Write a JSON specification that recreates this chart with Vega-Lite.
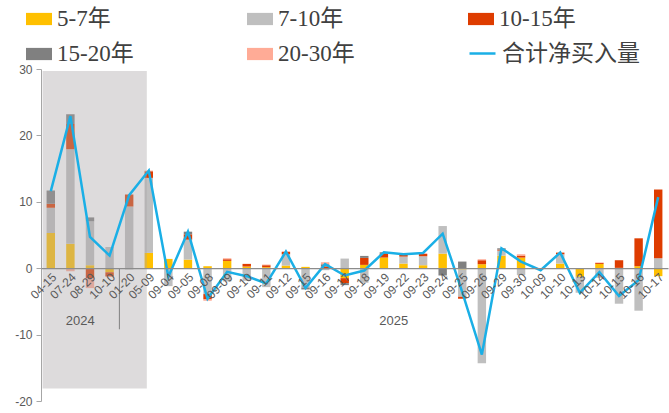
{
  "$schema": "https://vega.github.io/schema/vega-lite/v6.json",
  "width": 627,
  "height": 332,
  "autosize": {"type": "none"},
  "padding": {"left": 41, "top": 69, "right": 1, "bottom": 12},
  "background": "white",
  "config": {"view": {"stroke": null}, "font": "Liberation Sans"},
  "datasets": {
    "main": [
      {"d": "04-15", "5-7年": 5.3, "7-10年": 3.8, "10-15年": 0.6, "15-20年": 2.0, "20-30年": 0, "t": 11.6},
      {"d": "07-24", "5-7年": 3.7, "7-10年": 14.2, "10-15年": 3.8, "15-20年": 1.5, "20-30年": -0.45, "t": 22.9},
      {"d": "08-29", "5-7年": 0.45, "7-10年": 6.6, "10-15年": -1.5, "15-20年": 0.6, "20-30年": -1.5, "t": 4.7},
      {"d": "10-10", "5-7年": -0.6, "7-10年": 3.2, "10-15年": -0.65, "15-20年": 0, "20-30年": 0, "t": 1.9},
      {"d": "01-20", "5-7年": 0, "7-10年": 9.3, "10-15年": 1.8, "15-20年": -0.15, "20-30年": 0, "t": 11.0},
      {"d": "05-09", "5-7年": 2.3, "7-10年": 11.3, "10-15年": 1.0, "15-20年": 0, "20-30年": 0.1, "t": 14.7},
      {"d": "09-04", "5-7年": 1.4, "7-10年": -2.7, "10-15年": 0, "15-20年": 0, "20-30年": 0, "t": -1.3},
      {"d": "09-05", "5-7年": 1.3, "7-10年": 3.0, "10-15年": 0.8, "15-20年": 0.4, "20-30年": 0, "t": 5.5},
      {"d": "09-08", "5-7年": 0.3, "7-10年": -3.9, "10-15年": -0.8, "15-20年": 0, "20-30年": -0.2, "t": -4.6},
      {"d": "09-09", "5-7年": 1.1, "7-10年": -2.0, "10-15年": 0.25, "15-20年": 0, "20-30年": 0.15, "t": -0.55},
      {"d": "09-10", "5-7年": 0.25, "7-10年": -1.9, "10-15年": 0.4, "15-20年": 0, "20-30年": 0, "t": -1.2},
      {"d": "09-11", "5-7年": 0.15, "7-10年": -2.85, "10-15年": 0.3, "15-20年": 0, "20-30年": 0.1, "t": -2.3},
      {"d": "09-12", "5-7年": 0.4, "7-10年": 1.7, "10-15年": 0.35, "15-20年": 0, "20-30年": 0.1, "t": 2.5},
      {"d": "09-15", "5-7年": 0.2, "7-10年": -2.9, "10-15年": 0, "15-20年": -0.3, "20-30年": 0, "t": -3.0},
      {"d": "09-16", "5-7年": 0, "7-10年": -0.3, "10-15年": 0.25, "15-20年": 0.35, "20-30年": 0.3, "t": 0.6},
      {"d": "09-17", "5-7年": -1.5, "7-10年": 1.45, "10-15年": -0.75, "15-20年": -0.3, "20-30年": 0, "t": -1.1},
      {"d": "09-18", "5-7年": 0.5, "7-10年": -2.2, "10-15年": 1.05, "15-20年": 0.3, "20-30年": 0, "t": -0.35},
      {"d": "09-19", "5-7年": 1.6, "7-10年": 0, "10-15年": 0.55, "15-20年": 0.25, "20-30年": 0, "t": 2.4},
      {"d": "09-22", "5-7年": 0.7, "7-10年": 1.05, "10-15年": 0.25, "15-20年": 0, "20-30年": 0.1, "t": 2.1},
      {"d": "09-23", "5-7年": 0.45, "7-10年": 1.35, "10-15年": 0.35, "15-20年": 0, "20-30年": 0.1, "t": 2.3},
      {"d": "09-24", "5-7年": 2.2, "7-10年": 4.15, "10-15年": 0, "15-20年": -1.1, "20-30年": 0, "t": 5.2},
      {"d": "09-25", "5-7年": -0.2, "7-10年": -4.1, "10-15年": -0.3, "15-20年": 1.0, "20-30年": 0, "t": -3.6},
      {"d": "09-26", "5-7年": 0.6, "7-10年": -14.3, "10-15年": 0.6, "15-20年": 0, "20-30年": 0.15, "t": -13.0},
      {"d": "09-29", "5-7年": 1.9, "7-10年": 0.75, "10-15年": 0.15, "15-20年": 0.2, "20-30年": 0, "t": 3.0},
      {"d": "09-30", "5-7年": 1.6, "7-10年": -1.05, "10-15年": 0.3, "15-20年": 0, "20-30年": 0.2, "t": 1.0},
      {"d": "10-09", "5-7年": 0, "7-10年": 0, "10-15年": 0, "15-20年": 0, "20-30年": 0, "t": -0.3},
      {"d": "10-10 ", "5-7年": 0.7, "7-10年": 1.4, "10-15年": 0.25, "15-20年": 0, "20-30年": 0, "t": 2.35},
      {"d": "10-13", "5-7年": -1.3, "7-10年": -2.4, "10-15年": 0, "15-20年": 0, "20-30年": 0, "t": -3.7},
      {"d": "10-14", "5-7年": 0.65, "7-10年": -1.45, "10-15年": 0.15, "15-20年": 0, "20-30年": 0.05, "t": -0.6},
      {"d": "10-15", "5-7年": 0.05, "7-10年": -5.35, "10-15年": 1.15, "15-20年": 0, "20-30年": 0, "t": -4.2},
      {"d": "10-16", "5-7年": 0.3, "7-10年": -6.4, "10-15年": 4.2, "15-20年": 0, "20-30年": 0, "t": -1.8},
      {"d": "10-17", "5-7年": -1.2, "7-10年": 1.5, "10-15年": 10.35, "15-20年": 0, "20-30年": 0, "t": 10.7}
    ],
    "series": [
      {"k": "5-7年", "i": 0},
      {"k": "7-10年", "i": 1},
      {"k": "10-15年", "i": 2},
      {"k": "15-20年", "i": 3},
      {"k": "20-30年", "i": 4}
    ],
    "shade": [{"s": "04-15", "e": "05-09", "lo": -18.1, "hi": 29.7}],
    "sep": [{"d": "01-20", "y1": 0, "y2": -9.2}],
    "years": [
      {"d": "08-29", "y": -8.0, "t": "2024"},
      {"d": "09-22", "y": -8.0, "t": "2025"}
    ]
  },
  "layer": [
    {
      "data": {"name": "main"},
      "transform": [
        {"fold": ["5-7年", "7-10年", "10-15年", "15-20年", "20-30年"], "as": ["k", "v"]},
        {"lookup": "k", "from": {"data": {"name": "series"}, "key": "k", "fields": ["i"]}}
      ],
      "mark": {"type": "bar", "width": {"band": 0.43}},
      "encoding": {
        "x": {
          "field": "d", "type": "nominal", "sort": null, "title": null,
          "scale": {
            "domain": ["04-15", "07-24", "08-29", "10-10", "01-20", "05-09", "09-04", "09-05", "09-08", "09-09", "09-10", "09-11", "09-12", "09-15", "09-16", "09-17", "09-18", "09-19", "09-22", "09-23", "09-24", "09-25", "09-26", "09-29", "09-30", "10-09", "10-10 ", "10-13", "10-14", "10-15", "10-16", "10-17"],
            "paddingInner": 0, "paddingOuter": 0
          },
          "axis": {
            "orient": "bottom", "offset": -132.8, "labelAngle": -45, "ticks": false,
            "domainColor": "#8c8c8c", "domainWidth": 1.2, "labelColor": "#595959",
            "labelFontSize": 12, "labelPadding": 3, "zindex": 1, "title": null
          }
        },
        "y": {
          "field": "v", "type": "quantitative", "stack": "zero", "title": null,
          "scale": {"domain": [-20, 30], "nice": false, "zero": false},
          "axis": {
            "values": [-20, -15, -10, -5, 0, 5, 10, 15, 20, 25, 30], "grid": false,
            "labelExpr": "'' + datum.value",
            "domainColor": "#a6a6a6", "tickColor": "#a6a6a6", "tickSize": 5,
            "labelColor": "#595959", "labelFontSize": 12, "labelPadding": 4, "title": null
          }
        },
        "order": {"field": "i", "type": "quantitative"},
        "color": {
          "field": "k", "type": "nominal",
          "scale": {
            "domain": ["5-7年", "7-10年", "10-15年", "15-20年", "20-30年"],
            "range": ["#FFC000", "#BFBFBF", "#DE3C00", "#808080", "#FFAB96"]
          },
          "legend": {
            "orient": "none", "legendX": -15, "legendY": -63, "direction": "horizontal",
            "columns": 3, "gridAlign": "all", "columnPadding": 113, "rowPadding": 10,
            "title": null, "symbolType": "M-1,-0.47H1V0.47H-1Z", "symbolSize": 676,
            "symbolStrokeWidth": 0,
            "labelFont": "Liberation Serif, Noto Sans CJK SC", "labelFontSize": 23,
            "labelColor": "#404040", "labelOffset": 5, "labelLimit": 300
          }
        }
      }
    },
    {
      "data": {"name": "shade"},
      "mark": {"type": "rect", "color": "#A9A6A8", "opacity": 0.4},
      "encoding": {
        "x": {"field": "s", "type": "nominal", "bandPosition": 0.08, "title": null},
        "x2": {"field": "e", "bandPosition": 0.4},
        "y": {"field": "lo", "type": "quantitative", "title": null},
        "y2": {"field": "hi"}
      }
    },
    {
      "data": {"name": "main"},
      "mark": {"type": "line", "strokeWidth": 2.5},
      "encoding": {
        "x": {"field": "d", "type": "nominal", "sort": null, "title": null},
        "y": {"field": "t", "type": "quantitative", "title": null},
        "stroke": {
          "datum": "合计净买入量", "type": "nominal",
          "scale": {"domain": ["合计净买入量"], "range": ["#1AAFE6"]},
          "legend": {
            "orient": "none", "legendX": 427, "legendY": -30, "title": null,
            "symbolType": "M-1,0H1", "symbolSize": 676, "symbolStrokeWidth": 2.5,
            "labelFont": "Liberation Serif, Noto Sans CJK SC", "labelFontSize": 23,
            "labelColor": "#404040", "labelOffset": 5, "labelLimit": 300
          }
        }
      }
    },
    {
      "data": {"name": "sep"},
      "mark": {"type": "rule", "color": "#808080", "strokeWidth": 1},
      "encoding": {
        "x": {"field": "d", "type": "nominal", "bandPosition": 0, "title": null},
        "y": {"field": "y1", "type": "quantitative", "title": null},
        "y2": {"field": "y2"}
      }
    },
    {
      "data": {"name": "years"},
      "mark": {"type": "text", "fontSize": 13, "color": "#595959", "font": "Liberation Sans"},
      "encoding": {
        "x": {"field": "d", "type": "nominal", "bandPosition": 0, "title": null},
        "y": {"field": "y", "type": "quantitative", "title": null},
        "text": {"field": "t"}
      }
    }
  ]
}
